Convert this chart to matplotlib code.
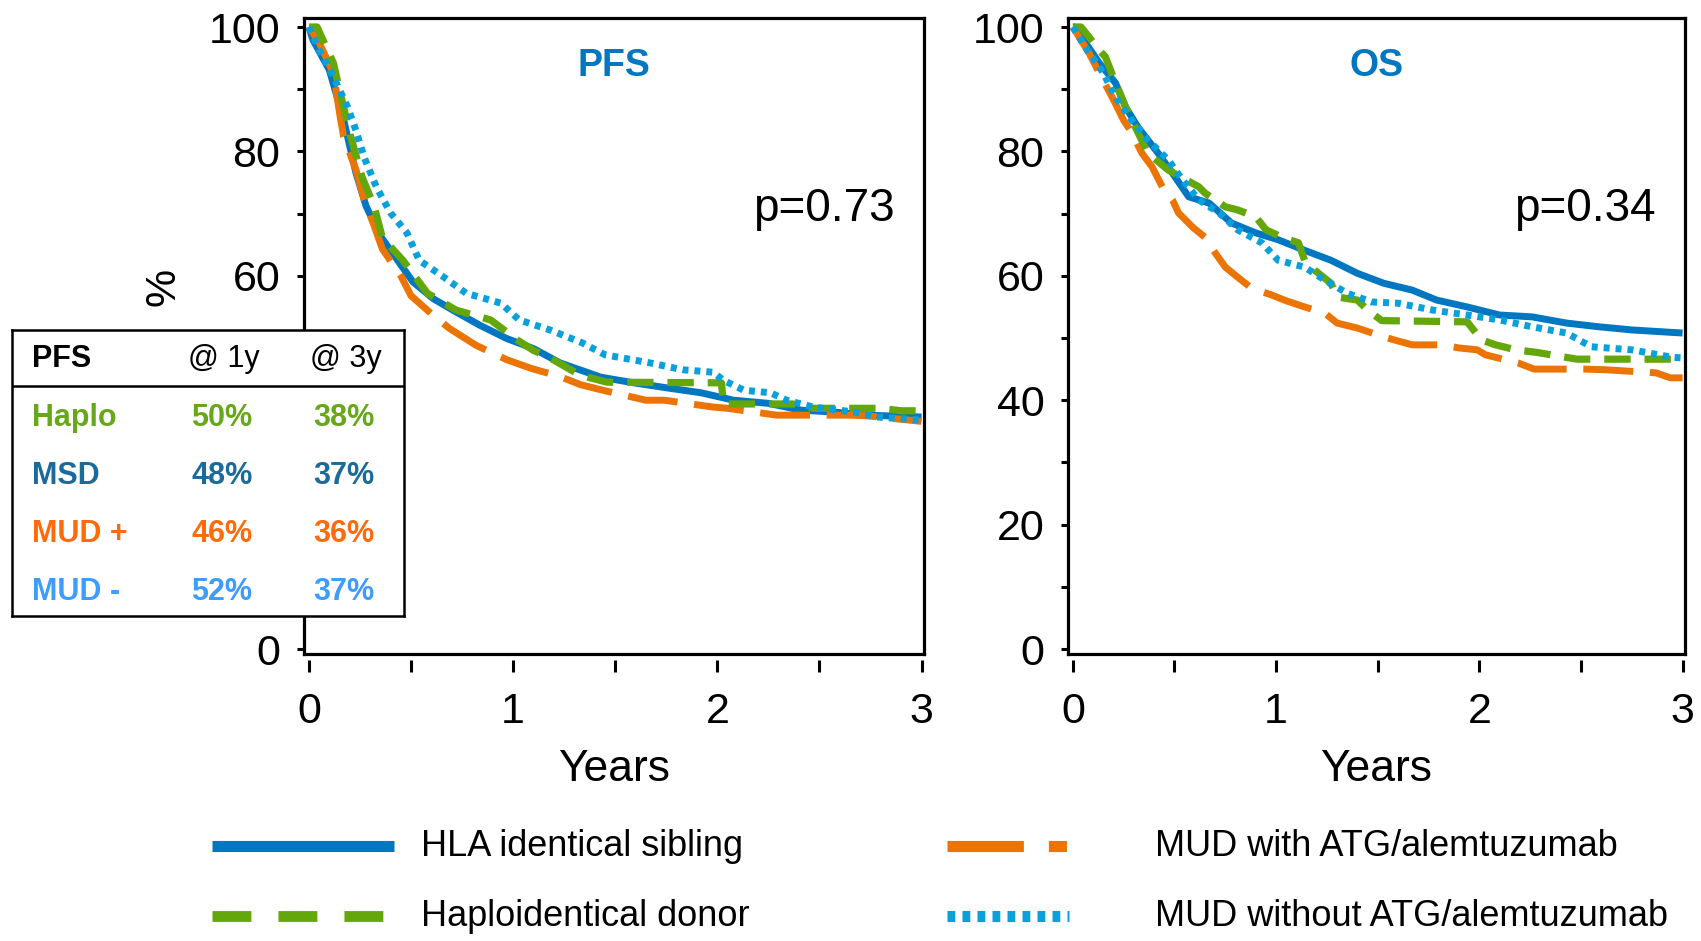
import matplotlib
matplotlib.use("Agg")
import matplotlib.pyplot as plt
from matplotlib import font_manager
from matplotlib.lines import Line2D
from matplotlib.ticker import MultipleLocator, FuncFormatter

BLUE, GREEN, ORANGE, SKY = "#0077c0", "#64a70b", "#ec7404", "#0aa0dc"
INK = "black"

# ---- data (years, % surviving) ----
PFS_MSD_T = [0, 0.02, 0.10, 0.17, 0.23, 0.28, 0.35, 0.43, 0.51, 0.61, 0.72, 0.84, 0.97, 1.10,
             1.23, 1.43, 1.59, 1.75, 1.92, 2.08, 2.25, 2.41, 2.57, 2.73, 3.0]
PFS_MSD_S = [100, 97.9, 93.1, 85.1, 76.6, 71.2, 66.4, 62.7, 59.0, 56.3, 54.2, 52.0, 49.9, 48.3,
             46.0, 43.7, 42.8, 42.0, 41.2, 40.0, 39.5, 38.4, 38.1, 37.6, 37.3]
PFS_HAPLO_T = [0, 0.04, 0.12, 0.15, 0.20, 0.26, 0.32, 0.36, 0.46, 0.58, 0.72, 0.89, 1.02, 1.10,
               1.17, 1.33, 1.46, 2.02, 2.03, 2.37, 2.47, 2.80, 2.90, 3.0]
PFS_HAPLO_S = [100, 100, 94.2, 89.9, 82.9, 75.9, 71.1, 66.1, 62.5, 57.2, 54.5, 52.9, 49.7, 48.0,
               47.0, 44.0, 42.9, 42.8, 39.4, 39.4, 38.7, 38.7, 38.3, 38.3]
PFS_MUDP_T = [0, 0.05, 0.12, 0.15, 0.17, 0.23, 0.27, 0.32, 0.36, 0.45, 0.50, 0.61, 0.69, 0.82,
              0.97, 1.09, 1.23, 1.33, 1.44, 1.65, 1.74, 1.98, 2.05, 2.29, 2.65, 2.73, 3.0]
PFS_MUDP_S = [100, 97.5, 92.6, 86.2, 82.4, 77.1, 72.3, 68.0, 64.3, 60.0, 56.8, 53.6, 51.5, 48.8,
              46.5, 45.1, 43.8, 42.5, 41.6, 40.0, 40.0, 38.9, 38.7, 37.6, 37.6, 37.5, 36.6]
PFS_MUDM_T = [0, 0.05, 0.12, 0.19, 0.23, 0.27, 0.33, 0.40, 0.48, 0.54, 0.66, 0.77, 0.94, 1.03,
              1.18, 1.34, 1.45, 1.67, 1.83, 1.98, 2.03, 2.13, 2.26, 2.34, 2.47, 2.67, 2.78, 3.0]
PFS_MUDM_S = [100, 96.3, 92.0, 87.1, 83.4, 79.1, 74.3, 70.1, 66.9, 62.5, 59.8, 57.2, 55.6, 52.9,
              51.3, 49.2, 47.3, 46.0, 44.9, 44.5, 43.2, 41.6, 41.2, 40.0, 38.9, 38.1, 37.3, 36.8]

OS_MSD_T = [0, 0.01, 0.13, 0.21, 0.26, 0.32, 0.42, 0.49, 0.57, 0.67, 0.78, 0.90, 1.01, 1.14,
            1.27, 1.40, 1.53, 1.67, 1.79, 1.94, 2.10, 2.26, 2.43, 2.59, 2.75, 3.0]
OS_MSD_S = [100, 100, 94.2, 91.0, 87.1, 83.9, 79.7, 76.5, 72.7, 71.7, 68.5, 66.9, 65.8, 64.1,
            62.5, 60.4, 58.8, 57.7, 56.1, 55.0, 53.7, 53.4, 52.4, 51.8, 51.3, 50.8]
OS_HAPLO_T = [0, 0.04, 0.13, 0.16, 0.21, 0.26, 0.37, 0.47, 0.62, 0.65, 0.75, 0.81, 0.90, 0.95,
              1.03, 1.11, 1.14, 1.19, 1.27, 1.30, 1.40, 1.45, 1.52, 1.94, 2.01, 2.08, 2.18,
              2.28, 2.48, 3.0]
OS_HAPLO_S = [100, 100, 96.3, 95.2, 91.0, 87.1, 79.7, 77.0, 74.3, 73.3, 71.1, 70.6, 69.5, 67.4,
              66.2, 65.3, 62.5, 60.9, 58.8, 56.6, 56.1, 54.5, 52.8, 52.6, 49.7, 48.9, 48.1,
              47.7, 46.6, 46.6]
OS_MUDP_T = [0, 0.08, 0.13, 0.20, 0.25, 0.29, 0.34, 0.39, 0.44, 0.49, 0.52, 0.59, 0.65, 0.70,
             0.75, 0.81, 0.88, 0.98, 1.04, 1.14, 1.24, 1.30, 1.40, 1.50, 1.58, 1.67, 1.82, 1.90,
             1.99, 2.03, 2.19, 2.27, 2.52, 2.62, 2.87, 2.94, 3.0]
OS_MUDP_S = [100, 95.8, 92.6, 88.3, 85.0, 83.0, 79.7, 77.5, 74.3, 72.2, 70.1, 67.8, 66.2, 63.7,
             61.4, 59.8, 58.0, 56.9, 56.1, 55.0, 54.0, 52.4, 51.6, 50.5, 49.7, 48.9, 48.9, 48.4,
             48.1, 47.3, 46.0, 45.0, 45.0, 44.9, 44.4, 43.6, 43.6]
OS_MUDM_T = [0, 0.06, 0.15, 0.21, 0.29, 0.37, 0.47, 0.54, 0.62, 0.72, 0.81, 0.93, 1.01, 1.14,
             1.24, 1.35, 1.47, 1.60, 1.77, 1.94, 2.10, 2.26, 2.43, 2.55, 2.75, 2.95, 3.0]
OS_MUDM_S = [100, 96.8, 92.6, 88.7, 85.0, 81.8, 78.6, 75.4, 72.2, 70.1, 67.4, 65.3, 62.5, 61.4,
             59.3, 57.2, 55.8, 55.6, 54.5, 53.7, 52.9, 51.8, 50.8, 48.6, 48.1, 46.9, 46.8]

TABLE_GROUPS = ["Haplo", "MSD", "MUD +", "MUD -"]
TABLE_1Y = ["50%", "48%", "46%", "52%"]
TABLE_3Y = ["38%", "37%", "36%", "37%"]
TABLE_COLORS = ["#66a81a", "#1a6a9c", "#ff6a0a", "#3d9dff"]

LEGEND_LABELS = ["HLA identical sibling", "Haploidentical donor",
                 "MUD with ATG/alemtuzumab", "MUD without ATG/alemtuzumab"]

plt.rcParams.update({
    "font.family": ["Liberation Sans", "DejaVu Sans"],
    "lines.scale_dashes": False,
})
names = {f.name for f in font_manager.fontManager.ttflist}
NARROW = "Liberation Sans Narrow" in names
LEG_FONT = "Liberation Sans Narrow" if NARROW else "Liberation Sans"
LEG_SIZE = 31 if NARROW else 26

W, H = 1701, 941
fig = plt.figure(figsize=(W / 100, H / 100), dpi=100)


def fx(px):
    return px / W


def fy(py):
    return 1 - py / H


STYLES = [  # msd, mud+, haplo, mud-
    dict(color=BLUE, ls="-", lw=5, zorder=3),
    dict(color=ORANGE, ls=(0, (36, 12)), lw=5, zorder=4),
    dict(color=GREEN, ls=(0, (19, 10)), lw=5.2, zorder=5),
    dict(color=SKY, ls=(0, (4.3, 4.3)), lw=5, zorder=6),
]


def panel(left, width, title, pval, curves, hide_under_table=False):
    ax = fig.add_axes([fx(left), fy(654), fx(width), fy(18) - fy(654)])
    for (t, s), st in zip(curves, STYLES):
        ax.plot(t, s, color=st["color"], ls=st["ls"], lw=st["lw"], zorder=st["zorder"],
                solid_capstyle="butt", dash_capstyle="butt")
    ax.set_xlim(-0.024, 3.012)
    ax.set_ylim(-0.8, 101.45)
    ax.xaxis.set_major_locator(MultipleLocator(1))
    ax.xaxis.set_minor_locator(MultipleLocator(0.5))
    ax.yaxis.set_major_locator(MultipleLocator(20))
    ax.yaxis.set_minor_locator(MultipleLocator(10))
    for s in ("top", "right", "left"):
        ax.spines[s].set_linewidth(2.3)
    ax.spines["bottom"].set_position(("outward", 4))
    ax.spines["bottom"].set_visible(False)
    ax.plot([0, 1], [0, 0], transform=ax.transAxes, color=INK, lw=2.3, clip_on=False,
            solid_capstyle="projecting")
    ax.tick_params(axis="x", which="both", direction="out", length=8.5, width=2.2,
                   labelsize=31, pad=15)
    ax.tick_params(axis="y", which="both", direction="out", length=5, width=2.2,
                   labelsize=31, pad=12)
    ax.set_xlabel("Years", fontsize=32)
    ax.xaxis.label.set_va("center")
    ax.xaxis.set_label_coords(0.5, -0.181)
    if hide_under_table:
        # the table covers the 20 / 40 labels in the original
        ax.yaxis.set_major_formatter(FuncFormatter(lambda v, p: "" if 10 < v < 50 else f"{v:g}"))
        ax.set_ylabel("%", fontsize=31)
        ax.yaxis.label.set(va="center", ha="center")
        ax.yaxis.set_label_coords(-0.226, 0.577)
    ax.text(0.5, 0.925, title, transform=ax.transAxes, ha="center", va="center",
            fontsize=27, fontweight="bold", color=BLUE)
    ax.text(0.953, 0.70, pval, transform=ax.transAxes, ha="right", va="center",
            fontsize=33, color=INK)
    return ax


panel(304, 620, "PFS", "p=0.73",
      [(PFS_MSD_T, PFS_MSD_S), (PFS_MUDP_T, PFS_MUDP_S),
       (PFS_HAPLO_T, PFS_HAPLO_S), (PFS_MUDM_T, PFS_MUDM_S)], hide_under_table=True)
panel(1068, 617, "OS", "p=0.34",
      [(OS_MSD_T, OS_MSD_S), (OS_MUDP_T, OS_MUDP_S),
       (OS_HAPLO_T, OS_HAPLO_S), (OS_MUDM_T, OS_MUDM_S)])

# ---- PFS summary table, over the left panel ----
tab = fig.add_axes([fx(12), fy(616), fx(404) - fx(12), fy(330) - fy(616)], zorder=10)
tab.set_xlim(0, 1); tab.set_ylim(0, 1)
tab.set_xticks([]); tab.set_yticks([])
tab.set_facecolor("white")
for s in tab.spines.values():
    s.set_linewidth(1.8)
tab.axhline(0.804, color=INK, lw=1.8)
tab.text(0.051, 0.899, "PFS", fontsize=22, fontweight="bold", va="center", color=INK)
tab.text(0.449, 0.899, "@ 1y", fontsize=22, va="center", color=INK)
tab.text(0.760, 0.899, "@ 3y", fontsize=22, va="center", color=INK)
for i, (g, a, b, c) in enumerate(zip(TABLE_GROUPS, TABLE_1Y, TABLE_3Y, TABLE_COLORS)):
    y = 0.692 - i * 0.2027
    tab.text(0.051, y, g, fontsize=22, fontweight="bold", va="center", color=c)
    tab.text(0.457, y, a, fontsize=22, fontweight="bold", va="center", color=c)
    tab.text(0.768, y, b, fontsize=22, fontweight="bold", va="center", color=c)

# ---- legend at the bottom ----
leg = [
    (212, 394, 846, dict(color=BLUE, ls="-", lw=8)),
    (212, 384, 916, dict(color=GREEN, ls=(0, (28, 19.5)), lw=7.8)),
    (947, 1069, 846, dict(color=ORANGE, ls=(0, (55, 18, 13, 40)), lw=8)),
    (947, 1069, 916, dict(color=SKY, ls=(0, (5.6, 5.2)), lw=8)),
]
text_x = [421, 421, 1155, 1155]
for (x0, x1, y, st), label, tx in zip(leg, LEGEND_LABELS, text_x):
    fig.add_artist(Line2D([fx(x0), fx(x1)], [fy(y), fy(y)], transform=fig.transFigure,
                          solid_capstyle="butt", dash_capstyle="butt", **st))
    fig.text(fx(tx), fy(y), label, fontsize=LEG_SIZE, family=LEG_FONT, va="center",
             ha="left", color=INK)

fig.savefig("out.png", dpi=100)
